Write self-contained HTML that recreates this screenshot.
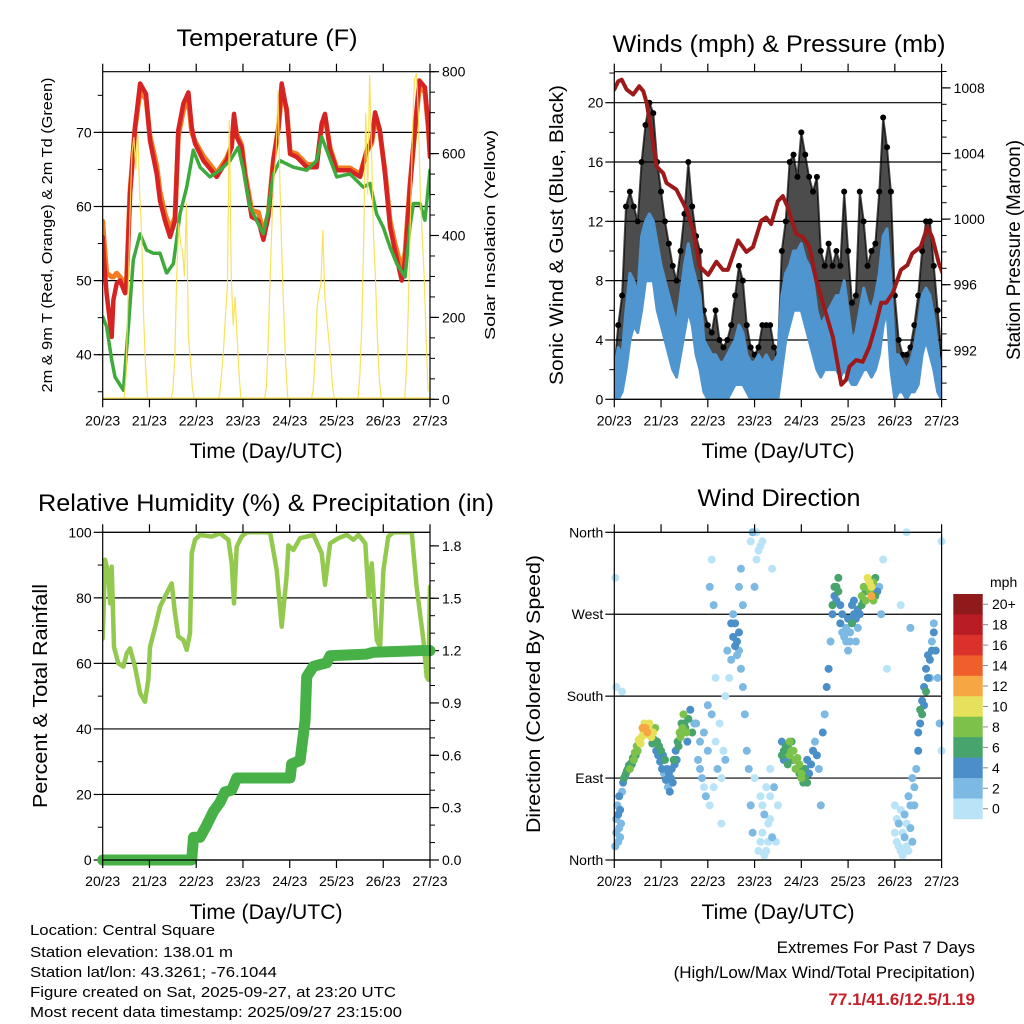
<!DOCTYPE html>
<html><head><meta charset="utf-8"><title>Station Meteogram</title>
<style>
html,body{margin:0;padding:0;background:#fff;}
svg{display:block;font-family:"Liberation Sans",Arial,sans-serif;}
</style></head>
<body>
<svg id="chart" xmlns="http://www.w3.org/2000/svg" width="1024" height="1024" viewBox="0 0 1024 1024">
<rect x="0" y="0" width="1024" height="1024" fill="#fff"/>
<text x="267" y="46" font-size="24" text-anchor="middle" textLength="181" lengthAdjust="spacingAndGlyphs">Temperature (F)</text>
<text x="779" y="52" font-size="24" text-anchor="middle" textLength="333" lengthAdjust="spacingAndGlyphs">Winds (mph) &amp; Pressure (mb)</text>
<text x="266" y="511" font-size="24" text-anchor="middle" textLength="456" lengthAdjust="spacingAndGlyphs">Relative Humidity (%) &amp; Precipitation (in)</text>
<text x="779" y="506" font-size="24" text-anchor="middle" textLength="163" lengthAdjust="spacingAndGlyphs">Wind Direction</text>

<text transform="translate(52,235) rotate(-90)" font-size="15" text-anchor="middle" textLength="315" lengthAdjust="spacingAndGlyphs">2m &amp; 9m T (Red, Orange) &amp; 2m Td (Green)</text>
<text transform="translate(495,235) rotate(-90)" font-size="15" text-anchor="middle" textLength="210" lengthAdjust="spacingAndGlyphs">Solar Insolation (Yellow)</text>
<text transform="translate(563,235) rotate(-90)" font-size="19" text-anchor="middle" textLength="300" lengthAdjust="spacingAndGlyphs">Sonic Wind &amp; Gust (Blue, Black)</text>
<text transform="translate(1020,250) rotate(-90)" font-size="19" text-anchor="middle" textLength="220" lengthAdjust="spacingAndGlyphs">Station Pressure (Maroon)</text>
<text transform="translate(47,696) rotate(-90)" font-size="20" text-anchor="middle" textLength="224" lengthAdjust="spacingAndGlyphs">Percent &amp; Total Rainfall</text>
<text transform="translate(540,694) rotate(-90)" font-size="19" text-anchor="middle" textLength="278" lengthAdjust="spacingAndGlyphs">Direction (Colored By Speed)</text>

<text x="266" y="458" font-size="21" text-anchor="middle" textLength="153" lengthAdjust="spacingAndGlyphs">Time (Day/UTC)</text>
<text x="778" y="458" font-size="21" text-anchor="middle" textLength="153" lengthAdjust="spacingAndGlyphs">Time (Day/UTC)</text>
<text x="266" y="919" font-size="21" text-anchor="middle" textLength="153" lengthAdjust="spacingAndGlyphs">Time (Day/UTC)</text>
<text x="778" y="919" font-size="21" text-anchor="middle" textLength="153" lengthAdjust="spacingAndGlyphs">Time (Day/UTC)</text>

<g font-size="15">
<text x="30" y="935" textLength="185" lengthAdjust="spacingAndGlyphs">Location: Central Square</text>
<text x="30" y="957" textLength="203" lengthAdjust="spacingAndGlyphs">Station elevation: 138.01 m</text>
<text x="30" y="977" textLength="247" lengthAdjust="spacingAndGlyphs">Station lat/lon: 43.3261; -76.1044</text>
<text x="30" y="997" textLength="366" lengthAdjust="spacingAndGlyphs">Figure created on Sat, 2025-09-27, at 23:20 UTC</text>
<text x="30" y="1017" textLength="372" lengthAdjust="spacingAndGlyphs">Most recent data timestamp: 2025/09/27 23:15:00</text>
</g>
<g font-size="17" text-anchor="end">
<text x="975" y="953">Extremes For Past 7 Days</text>
<text x="975" y="978">(High/Low/Max Wind/Total Precipitation)</text>
<text x="975" y="1005" font-weight="bold" fill="#c8202a">77.1/41.6/12.5/1.19</text>
</g>
<defs>
<clipPath id="c1"><rect x="102.7" y="71.7" width="327.3" height="327.6"/></clipPath>
<clipPath id="c2"><rect x="614.3" y="71.7" width="327.7" height="327.6"/></clipPath>
<clipPath id="c3"><rect x="102.7" y="532.3" width="327.3" height="327.7"/></clipPath>
<clipPath id="c4"><rect x="610" y="528" width="336" height="336"/></clipPath>
</defs>
</svg>
<script>
// ---------- data ----------
const dayLabels = ['20/23','21/23','22/23','23/23','24/23','25/23','26/23','27/23'];
const tempHours = [0,0.5,2,4.6,5.5,7.2,8.9,11.5,12.3,14,16.6,19.2,22.2,24.3,27.7,29.4,32,34.6,37.1,38.8,41.4,44,45.7,47.4,51.7,58.5,63.6,66.2,67.4,68.8,71.3,73.1,76.5,79.9,82.5,85,87.6,90.2,91.9,94.4,96.2,99.6,104.7,109.8,112.4,114.1,116.7,120.1,126.9,132.1,135.5,138.1,139.8,142.3,144.9,147.5,150,153.5,155.2,157.7,160.3,162.5,165.4,167.2,168];
const temp2m = [55.9,53.2,48.3,42.4,47.4,49.6,50,48.3,50,61.7,70.7,76.6,75.2,68.9,64.4,60.8,58.1,55.9,58.1,70.3,73.9,75.4,70.7,68.5,66.2,64,66.2,68,72.5,69.4,68,64,58.6,58.1,55.5,58.6,66.2,70.7,76.6,73,67.1,66.7,65.3,65.3,71.2,72.5,67.6,64.9,64.9,64,67.6,68.9,72.7,70.3,64.4,57.2,54.1,50,52.8,62.6,70.7,77,76.1,70.7,66.7];
const temp9m = [58,56,51,50.5,50.5,51,50.5,49.5,50.5,62,70.5,75.5,74.5,69.5,65.5,62,59,57,58.5,69.5,73,74.5,70,68.8,66.8,64.5,66.5,68.3,72,69.8,68.3,64.5,59.5,59.2,56.5,59,66.3,70.5,75.5,73.2,67.4,67.1,65.7,65.6,70.8,72.2,67.9,65.2,65.2,64.4,67.4,68.5,72,70,64.8,58,55,51.5,53.8,62.8,70.3,76,75.5,70.4,67];
const dewHours = [0,2,4.6,6.3,10.6,13.2,15.7,19.2,22.6,26,29.4,32.8,36.3,39.7,43.1,46.5,50,55.1,60.2,65.4,69.6,72.2,75.6,79,82.5,85,87.6,91,97.9,104.7,109.8,112.4,115,120.1,126.9,133.8,137.2,140.6,144,147.5,150.9,155.2,157.7,159.5,162.9,165.4,168];
const dewPoint = [45.1,43.8,39.3,37,35.2,43.8,52.8,56.3,54.1,53.7,53.7,51,52.3,59,62.6,67.6,65.3,64,64.9,66.2,68,64.9,59.9,58.1,56.3,59.5,64.4,66.2,65.3,64.9,66.2,69.4,67.6,64,64.4,62.6,63.1,59,57.2,54.5,52.3,50.5,57.2,60.4,60.4,58.1,64.9];
const solarStart = [11,35,59,83,107,131,155];
const solarDay1 = [0,60,250,450,600,640,560,650,500,400,200,80,0];
const solarDay2 = [0,20,100,300,430,380,360,300,480,150,100,30,0];
const solarDay3 = [0,10,60,120,200,280,682,300,180,250,150,60,0];
const solarDay4 = [0,30,150,300,450,550,600,755,520,350,200,80,0];
const solarDay5 = [0,20,100,220,260,280,413,250,200,150,100,30,0];
const solarDay6 = [0,60,180,400,700,500,792,600,400,300,150,50,0];
const solarDay7 = [0,80,250,450,650,780,796,700,500,400,300,150,20];

const windHours = [0,2,4,6,8,10,12,14,16,18,20,22,24,26,28,30,32,34,36,38,40,42,44,46,48,50,52,54,56,58,60,62,64,66,68,70,72,74,76,78,80,82,84,86,88,90,92,94,96,98,100,102,104,106,108,110,112,114,116,118,120,122,124,126,128,130,132,134,136,138,140,142,144,146,148,150,152,154,156,158,160,162,164,166,168];
const windHi = [2,3.5,3,6,8.5,8,7,11,12,12.5,12,10.5,9,8,7,6,5,7,9,10.5,9,8,7,4,3.5,3,3,2.5,2.5,3,3.5,4,5,4.5,3,2.5,2.5,3,2.5,3,2.5,2.5,3,7,8.5,9,10,10,10.5,9.5,9,8,6,5,5.5,6,6.5,7,7,8,6,4,4.5,6,7.5,6.5,6,7,8.5,11,11.5,8,3,3,2.5,2,2.5,3.5,5,7,7.5,7,5.5,3.5,1.5];
const windLo = [0,0,0.5,2,4,5,4.5,6,8,8,8,6,5,4,3,2,1.5,3,4.5,6,5,3,2,0.5,0,0,0,0,0,0,0.5,1,1,1,0.5,0,0,0,0,0,0,0,0,2,4,5,6,6,6,5,4,3,2,1.5,2,2,2,2,1.5,2,1.5,1,1,1.5,2,2,1.5,2,3,5,6,2,0,0.5,0.5,0,0.5,0.5,1,3,4,3,2,0.5,0];
const gustHi = [2,5,7,13,14,13,12,16,18.5,20,19.3,16,14,12,10.5,9,8,10,12.5,16,13,11,10,6,5,4.5,6,4,3.5,4,5,7,9,8,5,3.5,3,3.5,5,5,5,3.5,3,10,12,16,16.5,15,18,16.5,15,14,15,10,9,10.5,9,10,9,14,10,6.5,7,14,12,9,10,10.5,14,19,17,14,7,4,3,3,3.5,5,7,10,12,12,9,6,3];
const presHours = [0,2,3.8,6.3,9.7,12.8,14.9,16.6,19.1,21.7,25.1,26.8,31.9,37,40.5,43.9,48.2,52.4,55.8,58.3,63.5,67.8,71.2,75.4,77.9,80.5,84,86.5,89.1,93.3,96.8,100.2,103.6,107,112.2,116.5,119,120.7,124.1,127.5,130.9,134.3,137,139.6,143,147.1,150.5,152.9,157.2,160.7,163.2,166.6,168.5];
const pressure = [1007.9,1008.4,1008.5,1007.9,1007.6,1008.1,1007.8,1007.1,1005.3,1003.2,1002.8,1002.2,1001.8,1000.6,999.3,997.1,996.6,997.4,996.9,996.9,998.7,998,998.3,999.9,1000.1,999.7,1001.1,1001.4,1000.7,999.1,998.9,998.3,996.3,994.9,992.8,989.9,990.2,991,991.4,991.3,992.2,993.6,994.9,994.9,995.5,996.9,997.2,997.9,998.3,999.5,998.9,997.3,996.7];

const rhHours = [0,0.3,1.2,2.9,3.8,4.6,5.8,8.0,10.6,12.3,14,16.6,19.2,21.7,23.4,24.3,26.9,29.4,32.8,35.4,37.1,38.8,41.4,43.1,44.8,45.7,47.4,50,56,60.2,64.5,66.2,67.4,68.8,71.3,73.9,85.9,89.3,91.9,94.4,95.3,97.9,101.3,108.2,112.4,114.1,116.7,121,125.3,128.7,131.3,134.8,136.5,138.1,140.7,142.4,144.1,146.6,149.2,150.9,158.6,161.1,164.6,166.3,167.2,168];
const humidity = [67.6,73,91.6,87.5,78.3,89.5,65,60,59,63,64.6,59,50.9,48.3,55,65,71,77.3,81.4,84.4,75.3,68.2,67.1,64.1,69.2,93.6,97.7,99.2,98.7,99.7,97.7,90.5,78.3,95.6,98.7,100,100,88.5,71.2,86.5,96,94.6,98.2,99.2,93.6,84,96.6,98.2,99.2,97.7,99.2,96.6,80.4,90.5,67.1,65,88.5,98.7,100,100,100,83.4,67.1,55.9,55,83.4];
const rainHours = [0,45.7,46.6,50,53.4,56.9,60.2,62.8,66.2,68.8,96.2,97,101.3,103.9,104.7,108.2,115,116.7,135.5,138.9,162.9,168];
const rainTotal = [0,0,0.13,0.13,0.2,0.28,0.33,0.39,0.4,0.47,0.47,0.55,0.57,0.8,1.05,1.11,1.13,1.17,1.18,1.19,1.2,1.2];

const dirObs = [[0.5,15,2],[1,30,2],[1,45,3],[1.5,60,2],[2,50,4],[2.5,70,4],[3,55,4],[3.5,40,3],[4,75,3],[0.5,310,1],[1,190,1],[4,185,1],
[5,90,6],[6,95,7],[7,100,6],[8,100,8],[9,105,7],[10,110,8],[11,115,6],[12,120,8],[13,130,10],[14,135,10],[15,140,11],[16,145,12],[17,140,12],[18,150,11],[19,135,10],[20,140,11],[21,145,8],[22,130,6],[23,125,6],[24,120,6],[25,115,5],[26,110,6],[27,100,4],[28,95,4],[29,90,5],[30,85,4],[31,105,4],[32,110,4],[33,125,6],[34,135,8],[35,145,8],[36,150,7],[37,140,8],[38,155,6],[39,165,4],[40,140,6],[41,150,3],
[43,110,2],[44,130,2],[45,90,2],[46,140,3],[47,70,2],[48,120,2],[49,60,1],[50,160,3],[51,80,1],[49,300,2],[50,330,1],[51,280,2],[52,200,1],[53,100,2],[54,150,1],[55,40,1],[56,120,1],[57,180,1],[58,230,2],[59,200,1],
[60,220,3],[61,245,4],[62,260,4],[63,240,4],[64,230,3],[65,210,3],[64,250,4],[66,190,2],[67,160,2],[68,120,3],[69,100,2],[70,60,2],[71,30,2],[72,90,1],[70,350,1],[71,360,2],[73,330,1],[74,340,1],[72,300,2],[75,20,1],[76,60,1],[77,50,2],[78,10,1],[79,40,1],[80,70,1],[81,320,1],[82,80,2],[83,20,1],[76,350,1],[80,100,1],[84,60,1],
[86,130,5],[87,120,6],[88,110,4],[89,125,7],[90,115,8],[91,130,7],[92,120,9],[93,110,8],[94,100,6],[95,105,9],[96,95,8],[97,100,7],[98,90,6],[99,85,7],[100,95,5],[101,105,4],[102,120,4],[103,130,3],[104,115,4],[105,100,3],[106,60,3],
[107,140,4],[108,160,3],[109,190,4],[110,210,4],[111,240,3],[112,270,4],[113,290,5],[114,300,6],[115,310,6],[116,280,5],[117,270,4],[118,250,2],[119,240,2],[120,230,2],[121,250,3],[122,260,6],[123,270,5],[124,240,3],[125,255,3],
[126,270,5],[127,280,6],[128,285,6],[129,295,7],[130,300,8],[131,305,10],[132,290,12],[133,285,9],[134,310,6],[135,295,4],[136,300,2],[137,270,2],[138,330,1],[140,210,1],
[144,60,1],[145,20,1],[146,40,2],[147,10,1],[148,30,1],[149,50,3],[150,15,1],[151,70,2],[152,35,3],[153,90,2],[154,60,3],[147,280,1],[150,360,1],[152,255,2],[155,100,2],[156,120,4],[157,150,5],[158,160,6],[159,170,5],[160,185,6],[161,200,4],[162,220,4],[163,240,3],[164,250,4],[165,230,4],[166,200,2],[167,150,2],[168,120,1],[168,350,1],
[2,20,2],[2.5,35,3],[3,25,2],[4.5,85,4],[5.5,92,5],[6.5,98,6],[7.5,104,7],[8.5,106,6],[9.5,112,7],[10.5,118,8],[11.5,125,9],[12.5,132,10],[13.5,128,11],[14.5,145,12],[15.5,150,10],[16.5,138,11],[17.5,145,10],[19.5,128,6],[20.5,132,6],[21.5,120,5],[22.5,115,4],[23.5,108,5],[24.5,100,4],[25.5,95,3],[26.5,88,4],[27.5,80,3],[28.5,75,4],[29.5,100,5],[30.5,110,6],[31.5,120,5],[32.5,130,7],[33.5,140,8],[34.5,150,7],[35.5,160,8],[36.5,145,6],[37.5,130,5],[42,150,3],[44,100,2],[46,80,1],[48,170,2],[52,130,1],[55,90,1],[57,110,2],[60,260,4],[61,270,3],[62,235,4],[63,225,3],[64,300,3],[65,320,2],[66,280,2],[74,10,1],[75,70,1],[76,30,1],[77,5,1],[78,80,1],[79,20,1],[80,45,1],[81,25,2],[73,360,1],[75,345,1],
[86,115,6],[87,110,5],[88,125,7],[89,105,6],[90,130,9],[91,120,8],[92,110,7],[93,100,8],[94,112,8],[95,95,7],[96,90,8],[97,85,6],[98,100,5],[99,110,4],
[112,280,6],[113,300,6],[114,285,5],[115,295,6],[116,260,4],[117,250,3],[118,245,3],[119,255,3],[120,265,4],[121,240,2],[122,280,4],[123,285,5],[124,265,4],[125,275,4],
[127,290,8],[128,300,9],[129,285,8],[130,310,11],[131,295,9],[132,300,10],[133,305,9],[134,290,7],
[144,30,1],[145,45,1],[146,15,1],[147,55,1],[148,5,1],[149,25,2],[150,40,1],[151,10,1],[152,60,2],[153,20,2],[154,80,3],[156,140,4],[157,165,6],[158,175,5],[159,190,4],[160,210,4],[161,225,4],[162,200,3],[163,230,4],[164,260,3]];
const speedColors = ['#b9e4f8','#7cb9e3','#4a8fc8','#47a46c','#7cc14a','#e6e15a','#f6a643','#ef5f2b','#da312a','#b91c24','#8e1a1b'];
const speedLabels = ['0','2','4','6','8','10','12','14','16','18','20+'];
const dirLabels = ['North','East','South','West','North'];

// ---------- helpers ----------
const svg = document.getElementById('chart');
const NS = 'http://www.w3.org/2000/svg';
function mk(tag, attrs, parent){const e=document.createElementNS(NS,tag);for(const k in attrs)e.setAttribute(k,attrs[k]);(parent||svg).appendChild(e);return e;}
const W = 327.3;
function xs(x0,h){return x0 + h*W/168;}
function line(x1,y1,x2,y2,sw,nm,parent,col){const l=mk('line',{x1:x1,y1:y1,x2:x2,y2:y2,stroke:col||'#000','stroke-width':sw},parent);return l;}
function txt(x,y,s,anchor,size,nm){const t=mk('text',{x:x,y:y,'font-size':size,'text-anchor':anchor});t.textContent=s;return t;}
function poly(pts,attrs,nm,parent){const p=mk('polyline',Object.assign({fill:'none','stroke-linejoin':'round','stroke-linecap':'round',points:pts.map(p=>p[0].toFixed(1)+','+p[1].toFixed(1)).join(' ')},attrs),parent);return p;}
function group(nm,clip){const g=mk('g',clip?{'clip-path':'url(#'+clip+')'}:{});return g;}

function frame(x0,y0,y1,nm){
  const x1=x0+W;
  const g=group(nm+'-axes');
  line(x0,y0,x1,y0,1.2,nm+'-top-border',g);
  line(x0,y1,x1,y1,1.2,nm+'-bottom-border',g);
  line(x0,y0,x0,y1,1.2,nm+'-left-border',g);
  line(x1,y0,x1,y1,1.2,nm+'-right-border',g);
  for(let i=0;i<dayLabels.length;i++){
    const x=xs(x0,i*24);
    line(x,y0,x,y0-8,1.2,nm+'-top-tick',g);
    line(x,y1,x,y1+8,1.2,nm+'-bottom-tick',g);
    txt(x,y1+26,dayLabels[i],'middle',14,nm+'-x-tick-label');
  }
  return g;
}
function yAxis(x0,vals,fy,labels,side,major,nm,grid,minorVals){
  const x1=x0+W, g=group(nm);
  if(minorVals) minorVals.forEach(v=>{const y=fy(v); if(side==='left') line(x0,y,x0-5,y,1,nm+'-minor-tick',g); else line(x1,y,x1+5,y,1,nm+'-minor-tick',g);});
  vals.forEach((v,i)=>{const y=fy(v);
    if(side==='left'){line(x0-9,y,x0,y,1.2,nm+'-tick',g); if(grid) line(x0,y,x1,y,1.2,nm+'-gridline',g); txt(x0-11,y+5,labels[i],'end',14,nm+'-label');}
    else {line(x1,y,x1+9,y,1.2,nm+'-tick',g); txt(x1+12,y+5,labels[i],'start',14,nm+'-label');}
  });
}
function range(a,b,s){const r=[];for(let v=a;v<=b+1e-9;v+=s)r.push(+v.toFixed(3));return r;}

// ---------- Panel 1: temperature ----------
(function(){
  const x0=102.7,y0=71.7,y1=399.3;
  const fT=t=>354.7-(t-40)*7.41, fS=s=>y1-s*327.6/800;
  const t40=[40,50,60,70];
  yAxis(x0,t40,fT,t40.map(String),'left',true,'temperature-y-axis',true,range(35,75,5));
  const sv=[0,200,400,600,800];
  yAxis(x0,sv,fS,sv.map(String),'right',true,'solar-y-axis',false,range(0,800,50));
  const g=group('temperature-plot','c1');
  poly(tempHours.map((h,i)=>[xs(x0,h),fT(temp9m[i])]),{stroke:'#f47c20','stroke-width':5},'temp-9m-line',g);
  poly(tempHours.map((h,i)=>[xs(x0,h),fT(temp2m[i])]),{stroke:'#d62424','stroke-width':4.5},'temp-2m-line',g);
  poly(dewHours.map((h,i)=>[xs(x0,h),fT(dewPoint[i])]),{stroke:'#3eaa3e','stroke-width':3.5,'stroke-dasharray':'3,1'},'dewpoint-line',g);
  const days=[solarDay1,solarDay2,solarDay3,solarDay4,solarDay5,solarDay6,solarDay7];
  days.forEach((d,k)=>{
    poly(d.map((v,i)=>[xs(x0,solarStart[k]+i),fS(v)]),{stroke:'#f7df4a','stroke-width':1.2,'stroke-opacity':0.9,'stroke-linejoin':'miter'},'solar-day-'+(k+1),g);
  });
  poly([[x0,y1-1],[x0+W,y1-1]],{stroke:'#f7df4a','stroke-width':1.5},'solar-baseline',g);
  frame(x0,y0,y1,'temperature');
})();

// ---------- Panel 2: wind & pressure ----------
(function(){
  const x0=614.3,y0=71.7,y1=399.3;
  const fW=v=>y1-v*14.83, fP=p=>350.3-(p-992)*16.4;
  const wv=[0,4,8,12,16,20];
  yAxis(x0,wv,fW,wv.map(String),'left',true,'wind-y-axis',true,range(2,22,4));
  const pv=[992,996,1000,1004,1008];
  yAxis(x0,pv,fP,pv.map(String),'right',true,'pressure-y-axis',false,range(989,1009,1));
  const g=group('wind-plot','c2');
  const top=windHours.map((h,i)=>[xs(x0,h),fW(gustHi[i])]);
  const mid=windHours.map((h,i)=>[xs(x0,h),fW(windHi[i])]);
  const gp=mk('polygon',{points:top.concat(mid.slice().reverse()).map(p=>p[0].toFixed(1)+','+p[1].toFixed(1)).join(' '),fill:'#000','fill-opacity':0.7,stroke:'#000','stroke-width':2,'stroke-opacity':0.7,'stroke-linejoin':'round'},g);
  
  
  windHours.forEach((h,i)=>{const c=mk('circle',{cx:xs(x0,h),cy:fW(gustHi[i]),r:3,fill:'#000'},g);
    
    });
  const lo=windHours.map((h,i)=>[xs(x0,h),fW(windLo[i])]);
  const bp=mk('polygon',{points:mid.concat(lo.slice().reverse()).map(p=>p[0].toFixed(1)+','+p[1].toFixed(1)).join(' '),fill:'#4f95cf',stroke:'#4f95cf','stroke-width':3,'stroke-linejoin':'round'},g);
  
  
  poly(presHours.map((h,i)=>[xs(x0,h),fP(pressure[i])]),{stroke:'#9c1a1a','stroke-width':4},'pressure-line',g);
  frame(x0,y0,y1,'winds');
})();

// ---------- Panel 3: humidity & rain ----------
(function(){
  const x0=102.7,y0=532.3,y1=860;
  const fH=v=>y1-v*3.277, fR=r=>y1-r*174.5;
  const hv=[0,20,40,60,80,100];
  yAxis(x0,hv,fH,hv.map(String),'left',true,'humidity-y-axis',true,range(10,90,20));
  const rv=[0,0.3,0.6,0.9,1.2,1.5,1.8];
  yAxis(x0,rv,fR,rv.map(v=>v.toFixed(1)),'right',true,'rain-y-axis',false,range(0.1,1.8,0.1));
  const g=group('humidity-plot','c3');
  poly(rhHours.map((h,i)=>[xs(x0,h),fH(humidity[i])]),{stroke:'#93c94f','stroke-width':4.5},'humidity-line',g);
  const g2=group('rain-plot');
  poly(rainHours.map((h,i)=>[xs(x0,h),fR(rainTotal[i])]),{stroke:'#47b047','stroke-width':11},'rain-total-line',g2);
  frame(x0,y0,y1,'humidity');
})();

// ---------- Panel 4: wind direction ----------
(function(){
  const x0=614.3,y0=532.3,y1=860;
  const fD=d=>y1-d*(y1-y0)/360;
  const dv=[0,90,180,270,360];
  yAxis(x0,dv,fD,dirLabels,'left',true,'direction-y-axis',true,null);
  const g=group('direction-plot','c4');
  const sorted=dirObs.slice().sort((a,b)=>a[2]-b[2]);
  sorted.forEach(o=>{
    const bin=Math.max(0,Math.min(10,Math.floor(o[2]/2)));
    const c=mk('circle',{cx:xs(x0,o[0]),cy:fD(o[1]),r:4,fill:speedColors[bin]},g);
    
    
  });
  frame(x0,y0,y1,'direction');
  const cb=group('speed-colorbar');
  const bx=953.3,by=594,bh=20.45;
  for(let i=0;i<11;i++){
    const k=10-i;
    const r=mk('rect',{x:bx,y:by+i*bh,width:29.4,height:bh+0.3,fill:speedColors[k]},cb);
    
    
    txt(992,by+i*bh+bh/2+5,speedLabels[k],'start',14,'colorbar-label');
    line(983,by+i*bh+bh/2,988,by+i*bh+bh/2,1,'colorbar-tick',cb,'#888');
  }
  txt(990,587,'mph','start',14,'colorbar-title');
})();
</script>
</body></html>
